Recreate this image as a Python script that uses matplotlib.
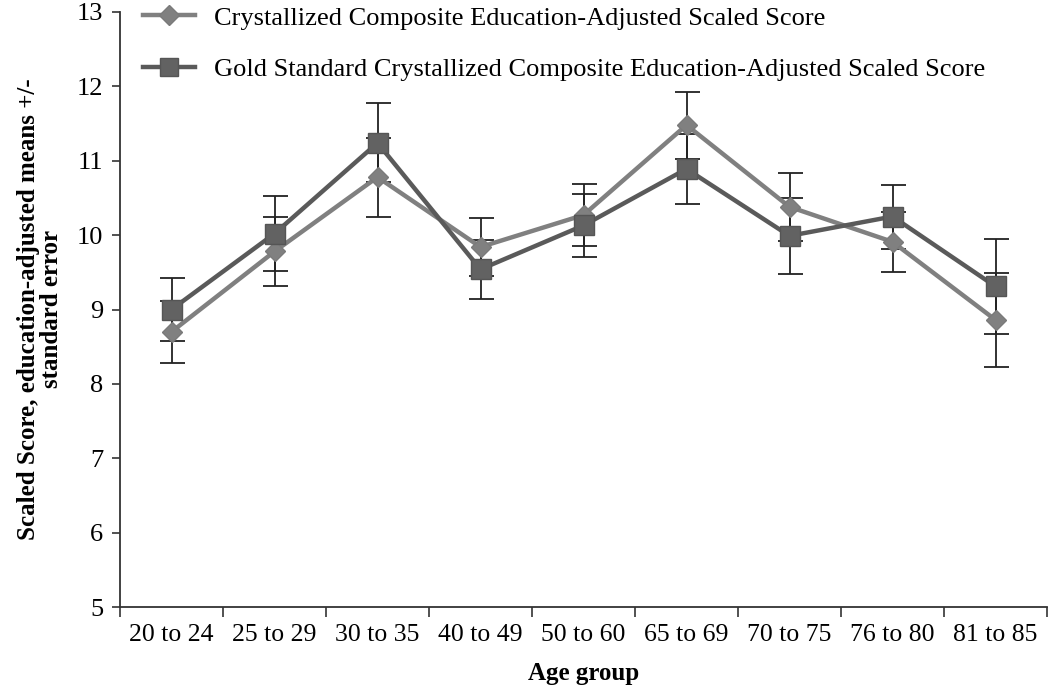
import matplotlib
matplotlib.use("Agg")
import matplotlib.pyplot as plt
from matplotlib.lines import Line2D
import numpy as np

categories = ["20 to 24", "25 to 29", "30 to 35", "40 to 49", "50 to 60",
              "65 to 69", "70 to 75", "76 to 80", "81 to 85"]
cryst_mean = [8.70, 9.78, 10.78, 9.84, 10.27, 11.48, 10.38, 9.91, 8.86]
cryst_se = [0.42, 0.47, 0.53, 0.39, 0.42, 0.45, 0.46, 0.40, 0.63]
gold_mean = [9.00, 10.02, 11.24, 9.54, 10.13, 10.89, 9.99, 10.25, 9.31]
gold_se = [0.42, 0.50, 0.53, 0.40, 0.42, 0.47, 0.51, 0.43, 0.64]

label_cryst = "Crystallized Composite Education-Adjusted Scaled Score"
label_gold = "Gold Standard Crystallized Composite Education-Adjusted Scaled Score"
yticks = [5, 6, 7, 8, 9, 10, 11, 12, 13]

plt.rcParams['font.family'] = ['Liberation Serif', 'DejaVu Serif']

fig = plt.figure(figsize=(10.5, 6.93), dpi=100)
ax = fig.add_axes([120/1050, 1-607/693, 927/1050, 595/693])

x = np.arange(len(categories))

c_line, c_mark = '#808080', '#808080'
g_line, g_mark = '#5a5a5a', '#626262'

ax.errorbar(x, cryst_mean, yerr=cryst_se, color=c_line, lw=3.2,
            marker='D', markersize=10, markerfacecolor=c_mark,
            markeredgecolor='#7a7a7a', ecolor='#222222', elinewidth=1.3,
            capsize=9, capthick=1.3, zorder=3)
ax.errorbar(x, gold_mean, yerr=gold_se, color=g_line, lw=3.2,
            marker='s', markersize=15, markerfacecolor=g_mark,
            markeredgecolor='#555555', ecolor='#222222', elinewidth=1.3,
            capsize=9, capthick=1.3, zorder=3)

ax.set_xlim(-0.5, len(categories) - 0.5)
ax.set_ylim(5, 13)
ax.set_yticks(yticks)
ax.set_yticklabels([str(v) for v in yticks], fontsize=19)
ax.set_xticks(x)
ax.set_xticklabels(categories, fontsize=18.5)
ax.set_xticks(np.arange(len(categories) + 1) - 0.5, minor=True)
ax.tick_params(axis='x', which='major', length=0, pad=12)
ax.tick_params(axis='x', which='minor', length=7, width=1.2, color='#333333')
ax.tick_params(axis='y', length=6, width=1.2, color='#333333', pad=6)

for s in ['top', 'right']:
    ax.spines[s].set_visible(False)
for s in ['left', 'bottom']:
    ax.spines[s].set_linewidth(1.3)
    ax.spines[s].set_color('#333333')

ax.set_xlabel("Age group", fontsize=18, fontweight='bold', labelpad=12)
ax.set_ylabel("Scaled Score, education-adjusted means +/-\nstandard error",
              fontsize=18, fontweight='bold', labelpad=10, linespacing=1.0)

handles = [
    Line2D([], [], color=c_line, lw=3.2, marker='D', markersize=10,
           markerfacecolor=c_mark, markeredgecolor='#7a7a7a'),
    Line2D([], [], color=g_line, lw=3.2, marker='s', markersize=13,
           markerfacecolor=g_mark, markeredgecolor='#555555'),
]
ax.legend(handles, [label_cryst, label_gold], loc='upper left',
          bbox_to_anchor=(140/1050, 0.995), bbox_transform=fig.transFigure,
          frameon=False, fontsize=19, labelspacing=1.05, handlelength=2.0,
          handletextpad=0.7, borderaxespad=0, borderpad=0.1)

fig.savefig("out.png", dpi=100)
